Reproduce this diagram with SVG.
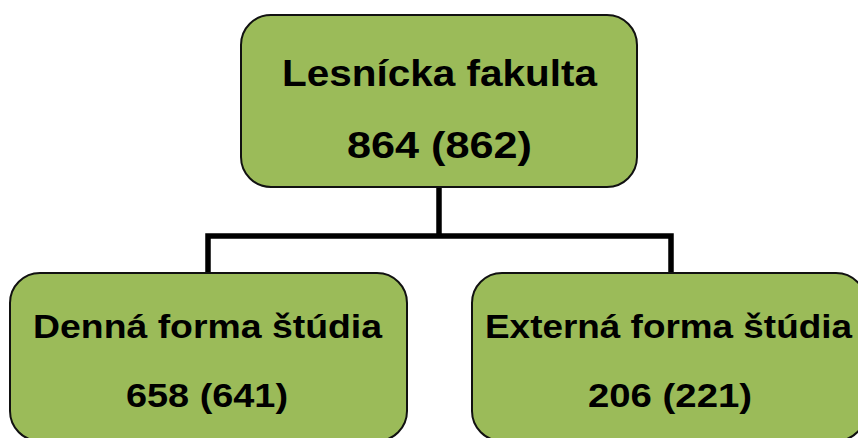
<svg xmlns="http://www.w3.org/2000/svg" width="858" height="438" viewBox="0 0 858 438">
<style>
.box{fill:#9BBB59;stroke:#111;stroke-width:2}
.t{font-family:"Liberation Sans",Arial,sans-serif;font-weight:bold;fill:#000;text-anchor:middle}
.conn{fill:none;stroke:#000;stroke-width:5.5}
</style>
<rect width="858" height="438" fill="#fff"/>
<g id="connectors">
<path class="conn" d="M439 187V236M208 273V236H671V273"/>
</g>
<g id="node-top">
<rect class="box" x="241" y="15" width="396" height="172" rx="30"/>
<text class="t" x="439.5" y="86" font-size="37" textLength="315" lengthAdjust="spacingAndGlyphs">Lesnícka fakulta</text>
<text class="t" x="439.5" y="158" font-size="36" textLength="185" lengthAdjust="spacingAndGlyphs">864 (862)</text>
</g>
<g id="node-left">
<rect class="box" x="10" y="273" width="397" height="168" rx="30"/>
<text class="t" x="207.5" y="338" font-size="34" textLength="349" lengthAdjust="spacingAndGlyphs">Denná forma štúdia</text>
<text class="t" x="207" y="407" font-size="34" textLength="162" lengthAdjust="spacingAndGlyphs">658 (641)</text>
</g>
<g id="node-right">
<rect class="box" x="472" y="273" width="394" height="168" rx="30"/>
<text class="t" x="668.5" y="338" font-size="34" textLength="367" lengthAdjust="spacingAndGlyphs">Externá forma štúdia</text>
<text class="t" x="670" y="407" font-size="34" textLength="164" lengthAdjust="spacingAndGlyphs">206 (221)</text>
</g>
</svg>
